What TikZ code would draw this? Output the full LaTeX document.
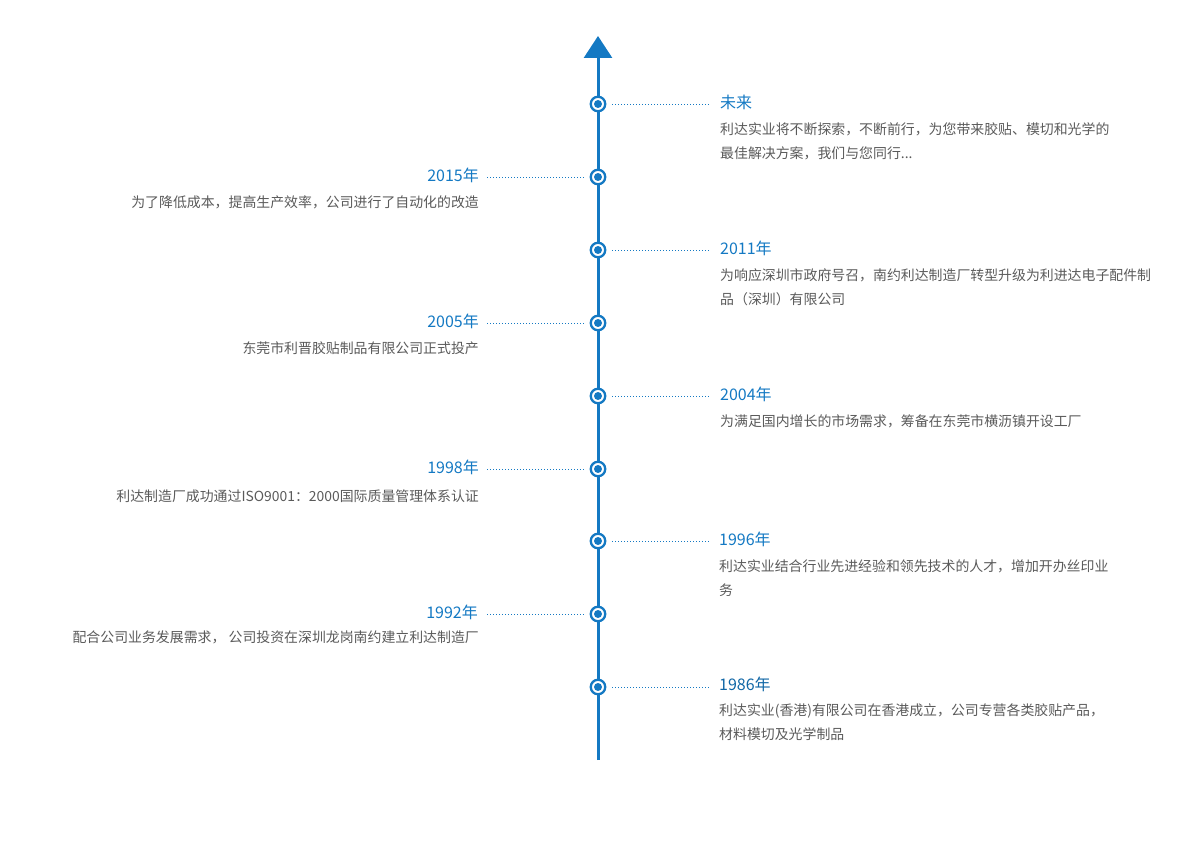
\documentclass[tikz,border=0pt]{standalone}
\usepackage{fontspec}
\setmainfont{Noto Sans CJK SC}
\usetikzlibrary{arrows.meta}
\definecolor{tblue}{HTML}{1479C3}
\definecolor{tgray}{HTML}{5A5A5A}
\begin{document}
\begin{tikzpicture}[x=1pt,y=-1pt,
  dotnode/.style={circle,draw=tblue,line width=2.3pt,fill=white,minimum size=14.5pt,inner sep=0pt,
    path picture={\fill[tblue] (path picture bounding box.center) circle (4pt);}},
  ttl/.style={text=tblue,font=\fontsize{16}{19}\selectfont,inner sep=0pt,text height=12.5pt,text depth=3.5pt},
  dsc/.style={text=tgray,font=\fontsize{13.9}{24}\selectfont,inner sep=0pt,text height=12.2pt,text depth=1.7pt},
  lnk/.style={tblue,line width=0.9pt,dash pattern=on 0.9pt off 2.1pt},
  axis/.style={tblue,line width=3pt,-{Triangle[width=28pt,length=22pt]}}]
\useasboundingbox (0,0) rectangle (1200,850);
\coordinate (bot) at (598,760);
\coordinate (top) at (598,36);
\draw[axis] (bot) -- (top);
% circles
\foreach \n/\y in {1/104,2/177,3/250,4/323,5/396,6/469,7/541,8/614,9/687}
  \node[dotnode] (c\n) at (598,\y) {};
% right entries
\node[ttl,anchor=west] (t1) at (720,104) {未来};
\node[dsc,anchor=west] (d1a) at (720,129) {利达实业将不断探索，不断前行，为您带来胶贴、模切和光学的};
\node[dsc,anchor=west] (d1b) at (720,153) {最佳解决方案，我们与您同行...};
\node[ttl,anchor=west] (t3) at (720,250) {2011年};
\node[dsc,anchor=west] (d3a) at (720,275) {为响应深圳市政府号召，南约利达制造厂转型升级为利进达电子配件制};
\node[dsc,anchor=west] (d3b) at (720,299) {品（深圳）有限公司};
\node[ttl,anchor=west] (t5) at (720,396) {2004年};
\node[dsc,anchor=west] (d5a) at (720,421) {为满足国内增长的市场需求，筹备在东莞市横沥镇开设工厂};
\node[ttl,anchor=west] (t7) at (719,541) {1996年};
\node[dsc,anchor=west] (d7a) at (719,566) {利达实业结合行业先进经验和领先技术的人才，增加开办丝印业};
\node[dsc,anchor=west] (d7b) at (719,590) {务};
\node[ttl,anchor=west,text=tblue!85!black] (t9) at (719,686) {1986年};
\node[dsc,anchor=west] (d9a) at (719,710) {利达实业(香港)有限公司在香港成立，公司专营各类胶贴产品，};
\node[dsc,anchor=west] (d9b) at (719,734) {材料模切及光学制品};
% left entries
\node[ttl,anchor=east] (t2) at (479,177) {2015年};
\node[dsc,anchor=east] (d2a) at (479,202) {为了降低成本，提高生产效率，公司进行了自动化的改造};
\node[ttl,anchor=east] (t4) at (479,323) {2005年};
\node[dsc,anchor=east] (d4a) at (479,348) {东莞市利晋胶贴制品有限公司正式投产};
\node[ttl,anchor=east] (t6) at (479,469) {1998年};
\node[dsc,anchor=east] (d6a) at (479,496) {利达制造厂成功通过ISO9001：2000国际质量管理体系认证};
\node[ttl,anchor=east] (t8) at (478,614) {1992年};
\node[dsc,anchor=east] (d8a) at (479,637) {配合公司业务发展需求， 公司投资在深圳龙岗南约建立利达制造厂};
% dotted connectors
\foreach \n in {1,3,5,7,9}
  \draw[lnk] (c\n.east) ++(6,0) -- ++(98,0);
\foreach \n in {2,4,6,8}
  \draw[lnk] (c\n.west) ++(-6,0) -- ++(-98,0);
\end{tikzpicture}
\end{document}
